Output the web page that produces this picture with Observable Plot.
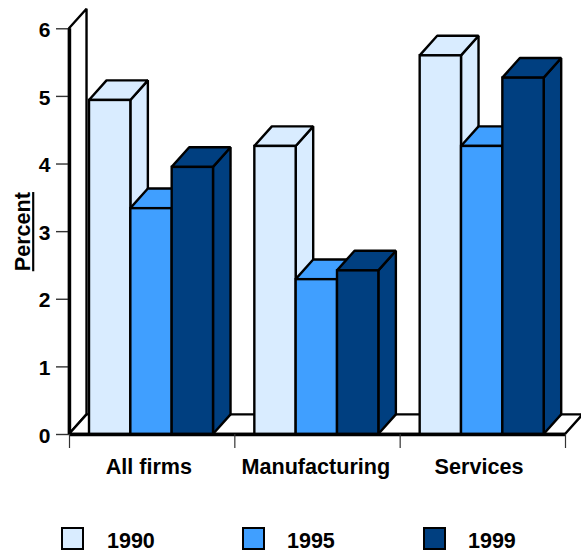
<!DOCTYPE html>
<html>
<head>
<meta charset="utf-8">
<script src="https://cdn.jsdelivr.net/npm/d3@7"></script>
<script src="https://cdn.jsdelivr.net/npm/@observablehq/plot@0.6"></script>
<style>
  html, body { margin: 0; padding: 0; background: #fff; }
  body { width: 581px; height: 555px; overflow: hidden; font-family: "Liberation Sans", Arial, sans-serif; }
  .underlined text { text-decoration: underline; }
  #legend { position: relative; height: 40px; }
  #legend .swatch { position: absolute; top: 12px; width: 19px; height: 19px; border: 2.5px solid #000; box-sizing: content-box; }
  #legend .name { position: absolute; top: 14px; font-size: 21.5px; font-weight: bold; line-height: 24px; color: #000; }
</style>
</head>
<body>
<div id="chart"></div>
<div id="legend"></div>
<script>
// Percent of firms by sector and year
const categories = ["All firms", "Manufacturing", "Services"];
const years = ["1990", "1995", "1999"];
const values1990 = [4.94, 4.26, 5.6];
const values1995 = [3.34, 2.29, 4.26];
const values1999 = [3.95, 2.42, 5.27];
const colors = ["#d9ecff", "#409fff", "#003f80"];
const yTicks = [0, 1, 2, 3, 4, 5, 6];
const labelAt = [0.48, 1.49, 2.477];

// Bar layout in x-scale units (one category = 1) and depth of the 3D projection
const groupStart = 0.121;
const barWidth = 0.25;
const depthX = 0.106;
const depthY = 0.29;
const series = [values1990, values1995, values1999];
const lineWidth = 2.4;

// A four-cornered face is an area between two edges
const quad = (x1, x2, y1, y2, fill, stroke = "#000", strokeWidth = lineWidth) =>
  Plot.area([0, 1], {
    x1: (d) => x1[d], x2: (d) => x2[d], y1: (d) => y1[d], y2: (d) => y2[d],
    fill, stroke, strokeWidth, strokeLinejoin: "miter"
  });

// Back wall and floor segment
const backdrop = [
  quad([0, depthX], [0, depthX], [0, depthY], [6, 6 + depthY], "#fff"),
  quad([0, depthX], [3, 3 + depthX], [0, depthY], [0, depthY], "#fff")
];

// Side, top and front of every bar, painted left to right
const bars = categories.flatMap((_, c) =>
  series.flatMap((vals, s) => {
    const v = vals[c];
    const l = c + groupStart + s * barWidth;
    const r = l + barWidth;
    const fill = colors[s];
    return [
      quad([r, r + depthX], [r, r + depthX], [0, depthY], [v, v + depthY], fill),
      quad([l, l + depthX], [r, r + depthX], [v, v + depthY], [v, v + depthY], fill),
      Plot.rect([v], { x1: l, x2: r, y1: 0, y2: (d) => d, fill, stroke: "#000", strokeWidth: lineWidth })
    ];
  })
);

const chart = Plot.plot({
  width: 581,
  height: 515,
  marginTop: 8,
  marginLeft: 69,
  marginRight: 16,
  marginBottom: 81,
  style: { fontFamily: "'Liberation Sans', Arial, sans-serif", background: "#fff", color: "#000" },
  x: { domain: [0, 3], range: [69, 565], axis: null },
  y: { domain: [0, 6.3], range: [434, 8], axis: null },
  marks: [
    ...backdrop,
    ...bars,
    // Value axis: tick marks, numbers set slightly below them, heavy spine
    Plot.axisY({ ticks: yTicks, tickSize: 13, tickFormat: () => "", label: null, stroke: "#333", strokeWidth: 1.4 }),
    Plot.text(yTicks, {
      x: 0, y: (d) => d, dx: -19, dy: 1.5, textAnchor: "end", text: (d) => String(d),
      fontSize: 21, fontWeight: "bold", fill: "#000"
    }),
    Plot.ruleX([0], { y1: 0, y2: 6, stroke: "#000", strokeWidth: 3.4 }),
    Plot.ruleY([0], { x1: 0, x2: 3, stroke: "#000", strokeWidth: 3.4 }),
    // Group separators below the baseline, then the group names
    Plot.axisX({ ticks: [0, 1, 2, 3], tickSize: 14, tickFormat: () => "", label: null, stroke: "#333", strokeWidth: 1.2 }),
    Plot.text(categories, {
      x: (_, i) => labelAt[i], y: 0, dy: 33, text: (d) => d,
      fontSize: 21.6, fontWeight: "bold", fill: "#000"
    }),
    Plot.text(["Percent"], {
      x: -0.28, y: 3, rotate: -90, text: (d) => d, className: "underlined",
      fontSize: 21.6, fontWeight: "bold", fill: "#000"
    })
  ]
});
document.getElementById("chart").appendChild(chart);
chart.style.display = "block";

// Legend row under the plot
const legend = document.getElementById("legend");
const swatchLeft = [61, 242, 423];
const nameLeft = [107, 287, 468];
years.forEach((y, i) => {
  const sw = document.createElement("div");
  sw.className = "swatch";
  sw.style.left = swatchLeft[i] + "px";
  sw.style.background = colors[i];
  const nm = document.createElement("div");
  nm.className = "name";
  nm.style.left = nameLeft[i] + "px";
  nm.textContent = y;
  legend.append(sw, nm);
});
</script>
</body>
</html>
